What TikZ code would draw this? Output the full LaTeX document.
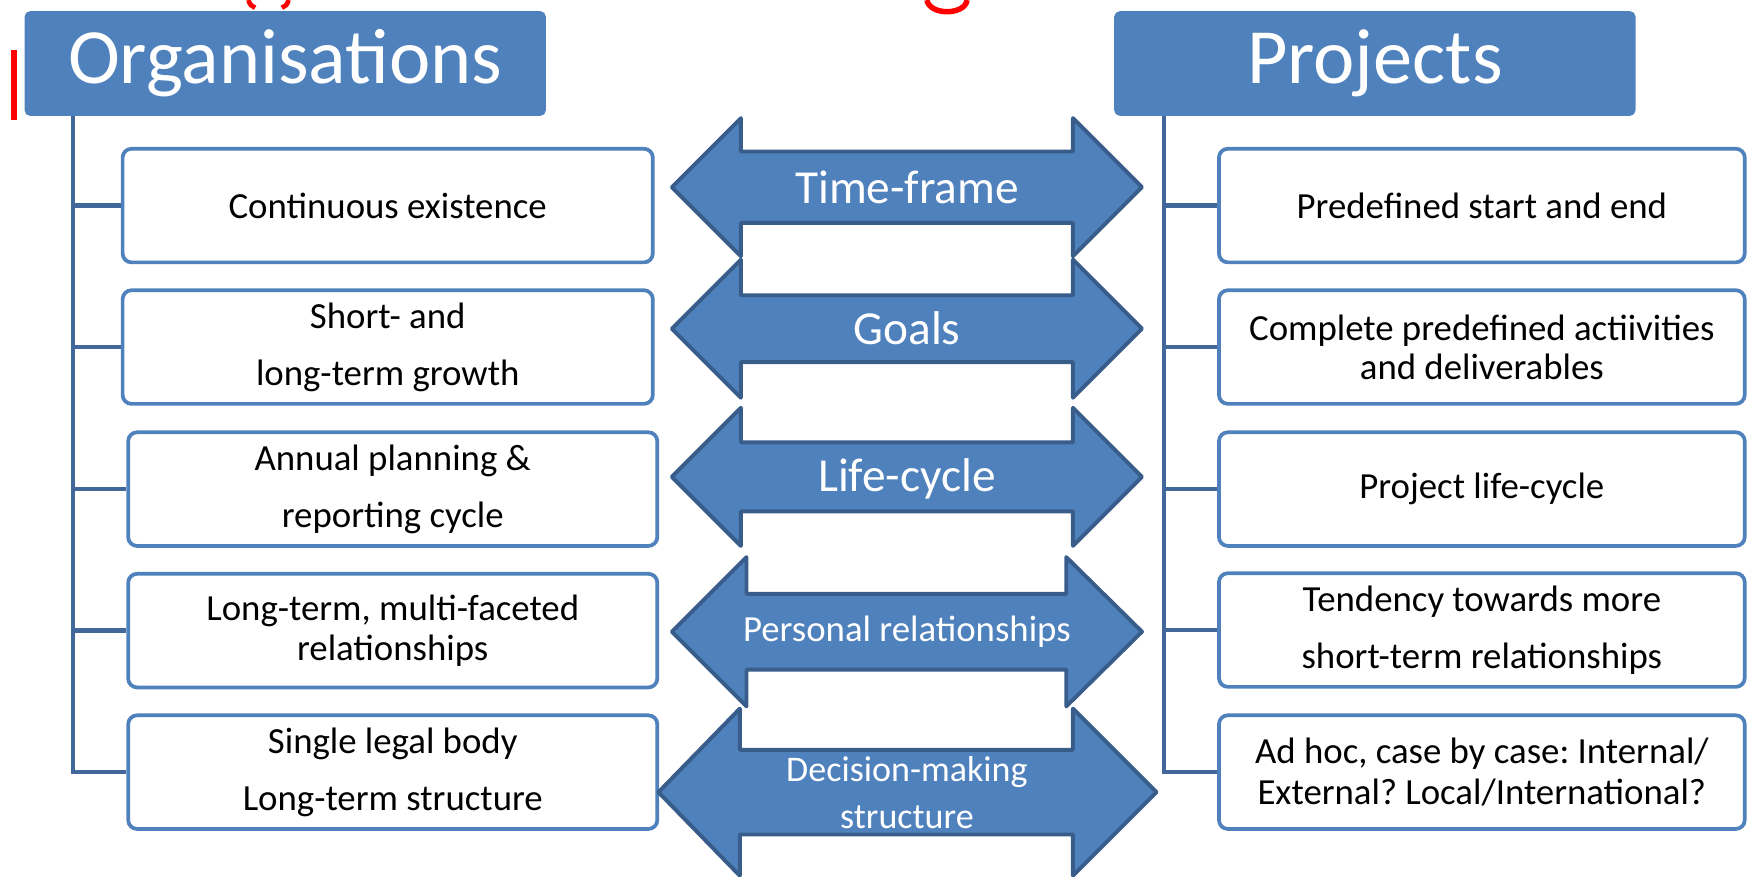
\documentclass[tikz,border=0pt]{standalone}
\usepackage{fontspec}
\setmainfont{Carlito}
\usetikzlibrary{arrows.meta}
\definecolor{ppblue}{HTML}{4F81BD}
\definecolor{ppdark}{HTML}{385D8A}
\definecolor{ppline}{HTML}{41679B}
\frenchspacing

\begin{document}
\begin{tikzpicture}[x=0.02cm,y=-0.02cm,
        head/.style={fill=ppblue,rounded corners=0.1cm,minimum width=9.36cm,minimum height=1.88cm,inner sep=0pt,text=white,font=\fontsize{40}{40}\selectfont},
        item/.style={draw=ppblue,line width=1.9pt,fill=white,rounded corners=0.16cm,minimum height=2.04cm,inner sep=0pt,align=center,font=\fontsize{18.8}{29}\selectfont},
        link/.style={draw=ppline,line width=2.2pt},
        twin/.style={fill=ppblue,draw=ppdark,line width=2pt,line join=round},
        twinlbl/.style={text=white,align=center,inner sep=0pt}]
    \useasboundingbox (0,0) rectangle (1568,787);
        \fill[red] (10,45) rectangle (15,108);
        \draw[red,line width=2.4pt] (223,0) .. controls (224,4) and (226,6) .. (229,7);
        \draw[red,line width=2.4pt] (259,0) .. controls (258,4) and (256,6) .. (253,7);
        \draw[red,line width=2.8pt] (832,0) .. controls (834,14) and (866,14) .. (868,0);
        \node[head] (org) at (256,57) {Organisations};
        \node[head] (proj) at (1234,57) {Projects};
        \coordinate (ot) at ([xshift=0.88cm]org.south west);
        \coordinate (pt) at ([xshift=0.9cm]proj.south west);
        \node[item,minimum width=9.52cm] (o1) at (348,184.5) {Continuous existence};
        \node[item,minimum width=9.52cm] (o2) at (348,311.5) {Short- and\\long-term growth};
        \node[item,minimum width=9.5cm] (o3) at (352.5,439) {Annual planning \&\\reporting cycle};
        \node[item,minimum width=9.5cm,font=\fontsize{18.8}{20.5}\selectfont] (o4) at (352.5,566) {Long-term, multi-faceted\\relationships};
        \node[item,minimum width=9.5cm] (o5) at (352.5,693) {Single legal body\\Long-term structure};
        \node[item,minimum width=9.44cm] (p1) at (1330,184.5) {Predefined start and end};
        \node[item,minimum width=9.44cm,font=\fontsize{18.8}{20}\selectfont] (p2) at (1330,311.5) {Complete predefined actiivities\\and deliverables};
        \node[item,minimum width=9.44cm] (p3) at (1330,439) {Project life-cycle};
        \node[item,minimum width=9.44cm] (p4) at (1330,565.5) {Tendency towards more\\short-term relationships};
        \node[item,minimum width=9.44cm,font=\fontsize{18.8}{21}\selectfont] (p5) at (1330,693) {Ad hoc, case by case: Internal/\\External? Local/International?};
        \draw[link] (ot) |- (o5.west);
        \draw[link] (o1.west) -- (o1.west -| ot);
        \draw[link] (o2.west) -- (o2.west -| ot);
        \draw[link] (o3.west) -- (o3.west -| ot);
        \draw[link] (o4.west) -- (o4.west -| ot);
        \draw[link] (pt) |- (p5.west);
        \draw[link] (p1.west) -- (p1.west -| pt);
        \draw[link] (p2.west) -- (p2.west -| pt);
        \draw[link] (p3.west) -- (p3.west -| pt);
        \draw[link] (p4.west) -- (p4.west -| pt);
        \filldraw[twin] (603,168) -- (665,106) -- (665,136) -- (963,136) -- (963,106) -- (1025,168) -- (963,230) -- (963,200) -- (665,200) -- (665,230) -- cycle;
        \filldraw[twin] (603,295) -- (665,233) -- (665,265) -- (963,265) -- (963,233) -- (1025,295) -- (963,357) -- (963,325) -- (665,325) -- (665,357) -- cycle;
        \filldraw[twin] (603,428) -- (665,366) -- (665,397) -- (963,397) -- (963,366) -- (1025,428) -- (963,490) -- (963,459) -- (665,459) -- (665,490) -- cycle;
        \filldraw[twin] (603,567) -- (670,500) -- (670,533) -- (957,533) -- (957,500) -- (1025,567) -- (957,634) -- (957,601) -- (670,601) -- (670,634) -- cycle;
        \filldraw[twin] (591,711) -- (664,636) -- (664,673) -- (963,673) -- (963,636) -- (1038,711) -- (963,786) -- (963,749) -- (664,749) -- (664,786) -- cycle;
        \node[twinlbl,font=\fontsize{24.2}{24.2}\selectfont] (tf) at (814,168) {Time-frame};
        \node[twinlbl,font=\fontsize{24.2}{24.2}\selectfont] (gl) at (814,295) {Goals};
        \node[twinlbl,font=\fontsize{24.2}{24.2}\selectfont] (lc) at (814,430) {Life-cycle};
        \node[twinlbl,font=\fontsize{18.8}{18.8}\selectfont] (pr) at (814,567) {Personal relationships};
        \node[twinlbl,font=\fontsize{18.4}{24}\selectfont] (dm) at (814,711) {Decision-making\\structure};
\end{tikzpicture}
\end{document}
